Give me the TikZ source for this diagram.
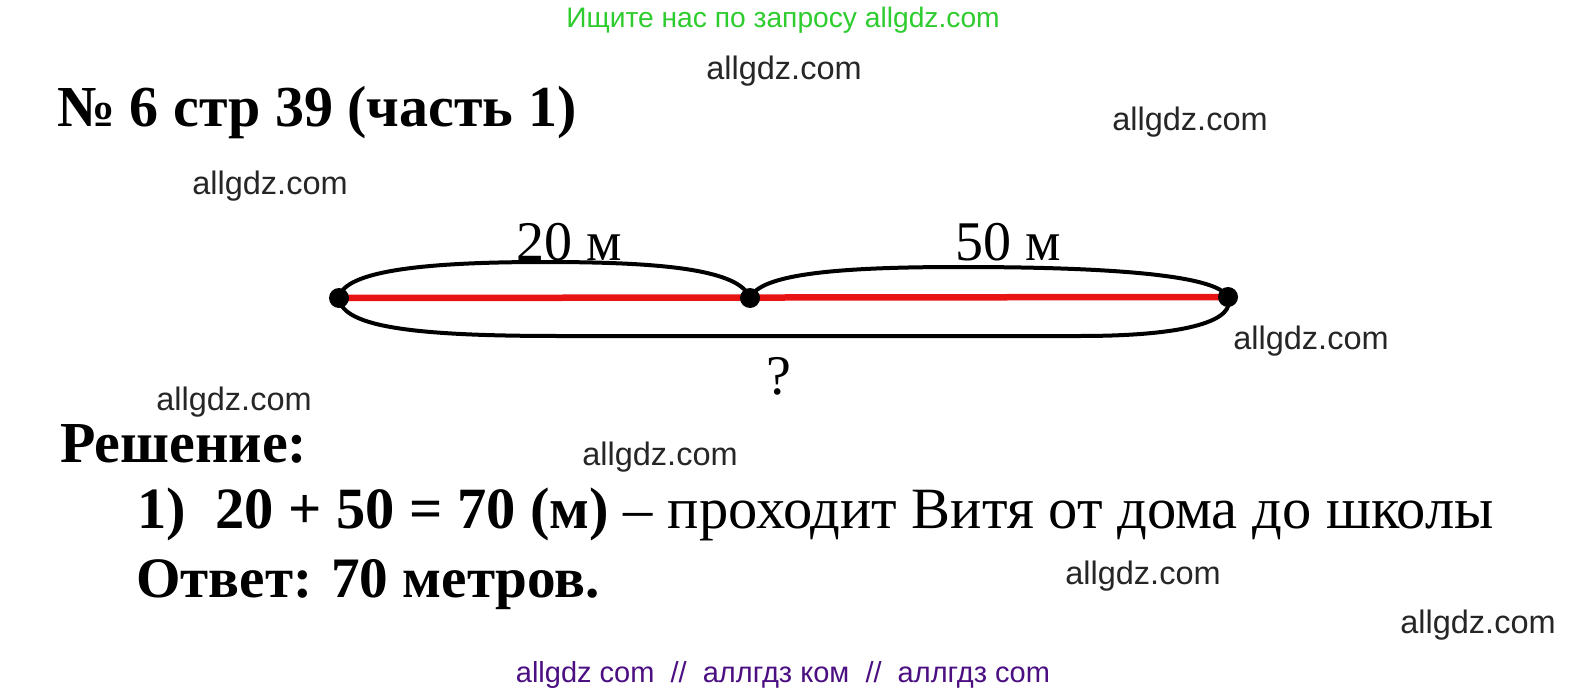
\documentclass[tikz,border=0pt]{standalone}
\usepackage{fontspec}
\setmainfont{Liberation Serif}
\newfontfamily\wmfont{Liberation Sans}
\usetikzlibrary{backgrounds}
\definecolor{wmgreen}{RGB}{46,204,46}
\definecolor{wmpurple}{RGB}{75,15,130}
\definecolor{segred}{RGB}{232,20,20}
\tikzset{
  wm/.style={font=\wmfont\fontsize{32.5}{34}\selectfont, inner sep=0pt, text=black!85},
  dot/.style={circle, fill=black, minimum size=20pt, inner sep=0pt},
  arc/.style={draw=black, line width=4pt},
  redseg/.style={draw=segred, line width=6.5pt},
  boldtxt/.style={font=\bfseries\fontsize{58}{60}\selectfont, inner sep=0pt, anchor=base west},
  lbl/.style={font=\fontsize{56}{58}\selectfont, inner sep=0pt, anchor=base}
}
\begin{document}
\begin{tikzpicture}[x=1pt,y=-1pt]
\useasboundingbox (0,0) rectangle (1573,695);
% header / footer
\node[inner sep=0pt, text=wmgreen, font=\wmfont\fontsize{28.2}{30}\selectfont] (top) at (783,20) {Ищите нас по запросу allgdz.com};
\node[inner sep=0pt, text=wmpurple, font=\wmfont\fontsize{29}{31}\selectfont] (bot) at (783,675) {allgdz com\ \ //\ \ аллгдз ком\ \ //\ \ аллгдз com};
% title
\node[boldtxt] (title) at (57,127) {№ 6 стр 39 (часть 1)};
% dots
\node[dot] (L) at (339,298) {};
\node[dot] (M) at (750,298) {};
\node[dot] (R) at (1228,297) {};
\begin{scope}[on background layer]
\fill[white] (0,0) rectangle (1573,695);
\draw[redseg] (L.center) -- (R.center);
\draw[arc] (L.center) .. controls (343,270) and (430,262) .. (545,262) .. controls (665,262) and (740,270) .. (M.center);
\draw[arc] (M.center) .. controls (760,275) and (830,267) .. (960,267) .. controls (1110,267) and (1217,275) .. (R.center);
\draw[arc] (L.center) .. controls (342,328) and (420,336) .. (560,336) -- (1080,336) .. controls (1190,336) and (1236,320) .. (R.center);
\end{scope}
% labels
\node[lbl] (l20) at (569,260) {20 м};
\node[lbl] (l50) at (1008,260) {50 м};
\node[lbl] (lq) at (779,394) {?};
% solution
\node[boldtxt] (resh) at (60,462) {Решение:};
\node[boldtxt, font=\fontsize{58.5}{60}\selectfont] (step1) at (137,528) {\textbf{1)\ \ 20 + 50 = 70 (м)} – проходит Витя от дома до школы};
\node[boldtxt, font=\bfseries\fontsize{57.2}{60}\selectfont] (otv) at (136,597) {Ответ: 70 метров.};
% watermarks
\node[wm] (w1) at (784,71) {allgdz.com};
\node[wm] (w2) at (1190,122) {allgdz.com};
\node[wm] (w3) at (270,186) {allgdz.com};
\node[wm] (w4) at (1311,341) {allgdz.com};
\node[wm] (w5) at (234,402) {allgdz.com};
\node[wm] (w6) at (660,457) {allgdz.com};
\node[wm] (w7) at (1143,576) {allgdz.com};
\node[wm] (w8) at (1478,625) {allgdz.com};
\end{tikzpicture}
\end{document}
